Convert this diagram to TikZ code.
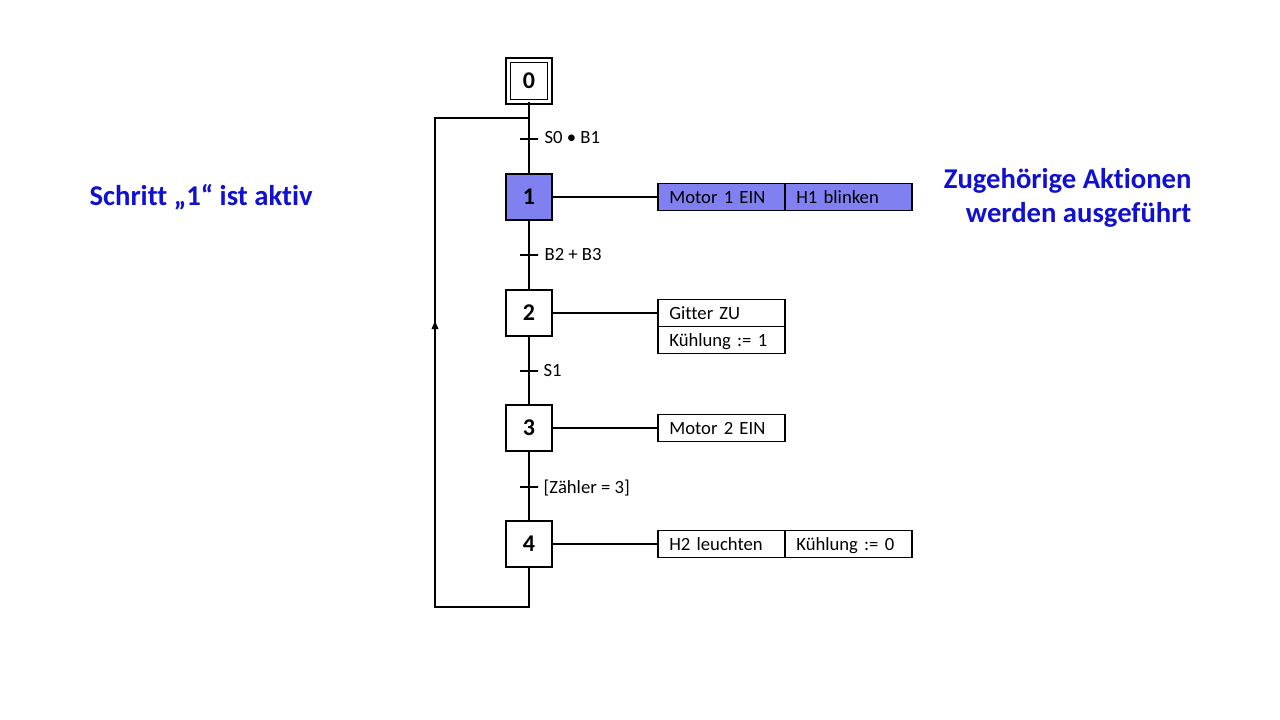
\documentclass[tikz,border=0pt]{standalone}
\usepackage{fontspec}
\setmainfont{Carlito}[Ligatures=NoCommon]
\usetikzlibrary{positioning,arrows.meta}
\definecolor{hlblue}{RGB}{16,16,208}
\definecolor{activefill}{RGB}{128,128,240}
\begin{document}
\begin{tikzpicture}[x=0.75pt, y=-0.75pt, line width=0.9pt,
		stepnode/.style = {draw, rectangle, minimum size=34.5pt, inner sep=0pt, font=\fontsize{18}{20}\selectfont\bfseries},
		initstep/.style = {stepnode, double, double distance=2.6pt, minimum size=31pt},
		act/.style = {draw, rectangle, outer sep=0pt, minimum height=20.25pt, inner xsep=8.5pt, inner ysep=0pt, text width=78.25pt, text height=11.5pt, text depth=1.5pt, align=left, font=\fontsize{14}{16}\selectfont},
		trans/.style = {draw, rectangle, minimum width=13.5pt, minimum height=0pt, inner sep=0pt},
		translabel/.style = {anchor=west, inner sep=0pt, font=\fontsize{14}{16}\selectfont},
		info/.style = {text=hlblue, inner sep=0pt, font=\fontsize{21.5}{25.5}\selectfont\bfseries}]

	\useasboundingbox (0,0) rectangle (1280,720);

	% steps
	\node[initstep] (s0) at (529,81) {0};
	\node[stepnode, fill=activefill] (s1) at (529,197) {1};
	\node[stepnode] (s2) at (529,313) {2};
	\node[stepnode] (s3) at (529,428) {3};
	\node[stepnode] (s4) at (529,544) {4};

	% transitions
	\node[trans] (t1) at (529,139) {};
	\node[trans] (t2) at (529,255) {};
	\node[trans] (t3) at (529,371) {};
	\node[trans] (t4) at (529,487) {};
	\node[translabel] (l1) at (544,138) {S0 • B1};
	\node[translabel] (l2) at (544,255) {B2 + B3};
	\node[translabel] (l3) at (543,371) {S1};
	\node[translabel] (l4) at (543,488) {[Zähler = 3]};

	\draw (s0) to (s1);
	\draw (s1) to (s2);
	\draw (s2) to (s3);
	\draw (s3) to (s4);

	% return loop
	\coordinate (lb) at (529,607);
	\coordinate (lbl) at (435,607);
	\coordinate (la) at (435,321);
	\coordinate (ltl) at (435,118);
	\coordinate (lt) at (529,118);
	\draw (s4) -- (lb) -- (lbl) -- (la);
	\draw[-{Triangle[length=6pt,width=5pt]}] (lbl) -- (la);
	\draw (la) -- (ltl) -- (lt);

	% actions
	\node[act, fill=activefill, anchor=west] (a1) at (658,197) {Motor 1 EIN};
	\node[act, fill=activefill, right=0pt of a1] (a1b) {H1 blinken};
	\node[act, anchor=west] (a2) at (658,313) {Gitter ZU};
	\node[act, below=0pt of a2] (a2b) {Kühlung := 1};
	\node[act, anchor=west] (a3) at (658,428) {Motor 2 EIN};
	\node[act, anchor=west] (a4) at (658,544) {H2 leuchten};
	\node[act, right=0pt of a4] (a4b) {Kühlung := 0};

	\draw (s1) to (a1);
	\draw (s2) to (a2);
	\draw (s3) to (a3);
	\draw (s4) to (a4);

	% notes
	\node[info, anchor=west] (n1) at (89,197) {Schritt „1“ ist aktiv};
	\node[info, anchor=east, align=right] (n2) at (1192,198) {Zugehörige Aktionen\\werden ausgeführt};
\end{tikzpicture}
\end{document}
